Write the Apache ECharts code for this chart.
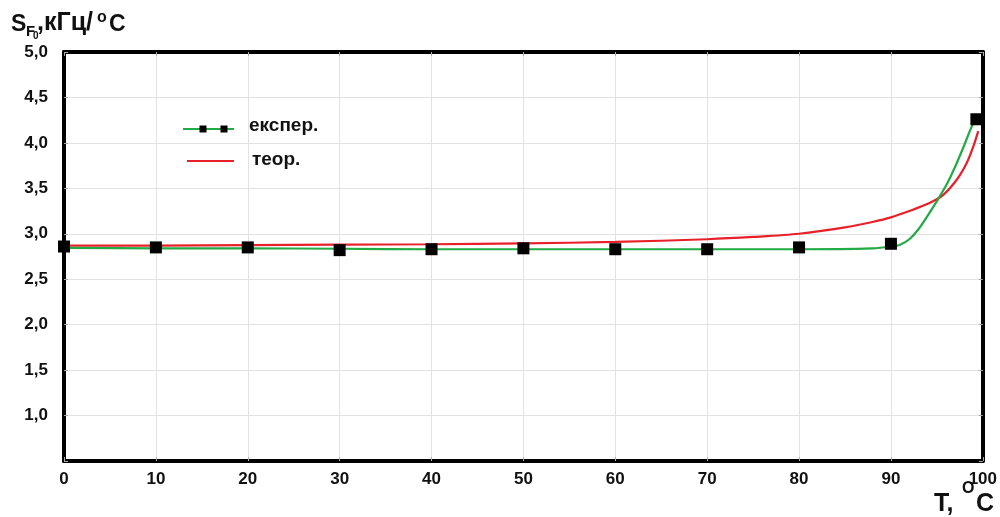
<!DOCTYPE html>
<html><head><meta charset="utf-8">
<script src="https://cdn.jsdelivr.net/npm/echarts@6/dist/echarts.min.js"></script>
<style>html,body{margin:0;padding:0;background:#fff}#c{width:1000px;height:517px}</style>
</head><body><div id="c"></div>
<script>
// Experimental points (T, S)
const expT = [0, 10, 20, 30, 40, 50, 60, 70, 80, 90, 99.3];
const expS = [2.86, 2.85, 2.85, 2.82, 2.83, 2.84, 2.83, 2.83, 2.85, 2.89, 4.26];
// Experimental fitted curve
const expCurveT = [0, 10, 20, 30, 40, 50, 60, 70, 80, 88, 90, 91, 92, 93, 94, 95, 96, 97, 98, 98.8, 99.4];
const expCurveS = [2.845, 2.84, 2.84, 2.835, 2.83, 2.83, 2.83, 2.83, 2.83, 2.84, 2.86, 2.88, 2.94, 3.05, 3.2, 3.36, 3.53, 3.74, 3.98, 4.18, 4.27];
// Theoretical curve
const theoT = [0, 10, 20, 30, 40, 50, 60, 70, 75, 80, 85, 88, 90, 92, 94, 95.6, 97.2, 98.3, 99, 99.5];
const theoS = [2.87, 2.87, 2.875, 2.88, 2.885, 2.895, 2.91, 2.94, 2.965, 3.0, 3.07, 3.13, 3.18, 3.25, 3.33, 3.42, 3.6, 3.79, 3.97, 4.13];
const xTicks = [0, 10, 20, 30, 40, 50, 60, 70, 80, 90, 100];
const legendNames = ['експер.', 'теор.'];

const zip = (a, b) => a.map((v, i) => [v, b[i]]);
const F = 'Liberation Sans';
const T = (x, y, text, size, extra) => ({ type: 'text', x, y, z: 10,
  style: Object.assign({ text, fontSize: size, fontWeight: 'bold', fontFamily: F, fill: '#111', textVerticalAlign: 'bottom' }, extra || {}) });
const axisCommon = {
  axisLine: { show: true, onZero: false, lineStyle: { color: '#000', width: 4 } },
  axisTick: { show: true, inside: true, length: 4, lineStyle: { color: '#aaa' } },
};
const chart = echarts.init(document.getElementById('c'));
chart.setOption({
  animation: false,
  backgroundColor: '#fff',
  grid: { left: 64, right: 17, top: 52, bottom: 56 },
  xAxis: [{
    type: 'value', min: 0, max: 100, interval: 10, ...axisCommon,
    splitLine: { show: true, lineStyle: { color: '#e2e2e2', width: 1 } },
    axisLabel: { color: '#111', fontFamily: F, fontWeight: 'bold', fontSize: 17, margin: 10,
      formatter: v => xTicks.includes(v) ? String(v) : '' }
  }, {
    type: 'value', position: 'top', min: 0, max: 100, interval: 10, ...axisCommon,
    splitLine: { show: false }, axisLabel: { show: false }
  }],
  yAxis: [{
    type: 'value', min: 0.5, max: 5.0, interval: 0.5, ...axisCommon,
    splitLine: { show: true, lineStyle: { color: '#e2e2e2', width: 1 } },
    axisLabel: { color: '#111', fontFamily: F, fontWeight: 'bold', fontSize: 17, margin: 16,
      formatter: v => v < 0.9 ? '' : v.toFixed(1).replace('.', ',') }
  }, {
    type: 'value', position: 'right', min: 0.5, max: 5.0, interval: 0.5, ...axisCommon,
    splitLine: { show: false }, axisLabel: { show: false }
  }],
  series: [
    { name: 'theo', type: 'line', data: zip(theoT, theoS), smooth: 0.3, showSymbol: false,
      lineStyle: { color: '#e8202a', width: 2.2 }, z: 2 },
    { name: 'expCurve', type: 'line', data: zip(expCurveT, expCurveS), smooth: 0.3, showSymbol: false,
      lineStyle: { color: '#22aa44', width: 2.2 }, z: 3 },
    { name: 'exp', type: 'scatter', data: zip(expT, expS), symbol: 'rect', symbolSize: 12,
      itemStyle: { color: '#000', opacity: 1 }, clip: false, z: 4 }
  ],
  graphic: [
    { type: 'line', shape: { x1: 183, y1: 129, x2: 234, y2: 129 }, style: { stroke: '#22aa44', lineWidth: 2 } },
    { type: 'rect', shape: { x: 199.5, y: 125.5, width: 7, height: 7 }, style: { fill: '#000' } },
    { type: 'rect', shape: { x: 220.5, y: 125.5, width: 7, height: 7 }, style: { fill: '#000' } },
    T(249, 135, legendNames[0], 19),
    { type: 'line', shape: { x1: 187, y1: 161, x2: 234, y2: 161 }, style: { stroke: '#e8202a', lineWidth: 2 } },
    T(252, 169, legendNames[1], 19),
    // y-axis name S_F0, кГц/ °C
    T(11, 36, 'S', 23),
    T(26, 39, 'F', 15),
    T(33, 41, '0', 10),
    T(37, 36, ',кГц/', 25),
    T(97, 26, 'o', 16),
    T(109, 36, 'C', 23),
    // x-axis name T, °C
    T(934, 517, 'T,', 25),
    T(962, 497, 'O', 16),
    T(976, 517, 'C', 25)
  ]
});
</script></body></html>
